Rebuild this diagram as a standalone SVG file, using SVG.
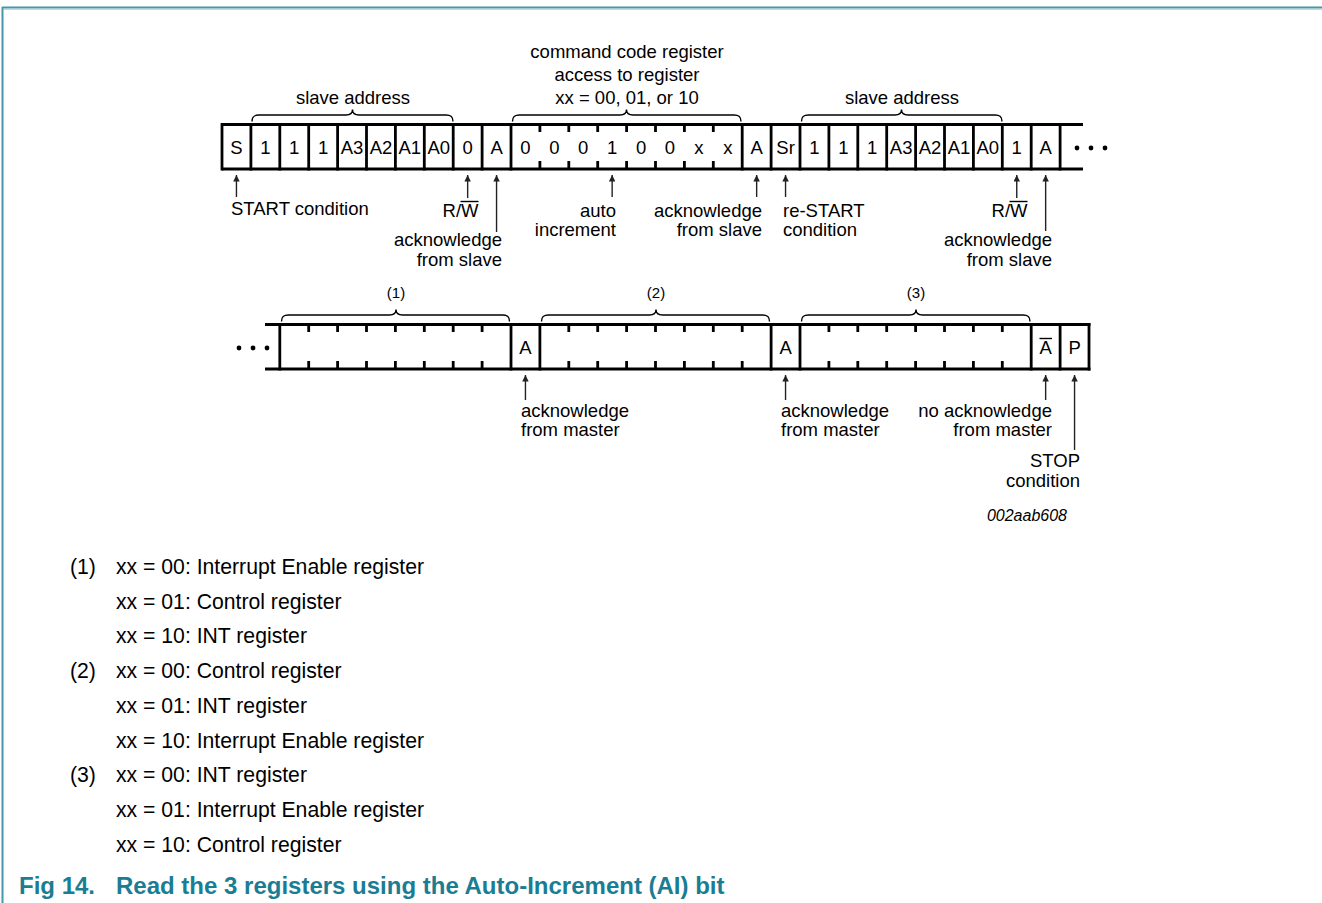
<svg xmlns="http://www.w3.org/2000/svg" width="1322" height="903" viewBox="0 0 1322 903">
<style>
text{font-family:"Liberation Sans",Arial,sans-serif;fill:#000}
.t{font-size:18.5px}
.c{font-size:18.5px;text-anchor:middle}
.e{text-anchor:end}
.m{text-anchor:middle}
.s{font-size:15px;text-anchor:middle}
.n{font-size:21.2px}
.cap{font-size:24px;font-weight:bold;fill:#1b7d94}
.id{font-size:16px;font-style:italic;text-anchor:end}
.box{stroke:#000;stroke-width:3;fill:none}
.tick{stroke:#000;stroke-width:2.8}
.br{stroke:#000;stroke-width:1.4;fill:none}
.ar{stroke:#222;stroke-width:1.4;fill:none;marker-end:url(#ah)}
.ov{stroke:#000;stroke-width:1.4}
</style>
<defs>
<marker id="ah" markerUnits="userSpaceOnUse" viewBox="0 0 10 10" refX="10" refY="5" markerWidth="8.5" markerHeight="6.5" orient="auto">
<path d="M0,0 L10,5 L0,10 z" fill="#222"/>
</marker>
</defs>

<g id="frame">
<line x1="2" y1="7.5" x2="1322" y2="7.5" stroke="#4796ab" stroke-width="2"/>
<line x1="4" y1="9.5" x2="1322" y2="9.5" stroke="#b8dbe4" stroke-width="1"/>
<line x1="2.5" y1="7" x2="2.5" y2="903" stroke="#4796ab" stroke-width="2"/>
</g>

<g id="row1">
<line class="box" x1="222" y1="124.5" x2="1083" y2="124.5"/>
<line class="box" x1="222" y1="169" x2="1083" y2="169"/>
<g class="tick">
<line x1="222" y1="123" x2="222" y2="170.5"/>
<line x1="250.9" y1="123" x2="250.9" y2="170.5"/>
<line x1="279.8" y1="123" x2="279.8" y2="170.5"/>
<line x1="308.7" y1="123" x2="308.7" y2="170.5"/>
<line x1="337.6" y1="123" x2="337.6" y2="170.5"/>
<line x1="366.5" y1="123" x2="366.5" y2="170.5"/>
<line x1="395.4" y1="123" x2="395.4" y2="170.5"/>
<line x1="424.3" y1="123" x2="424.3" y2="170.5"/>
<line x1="453.2" y1="123" x2="453.2" y2="170.5"/>
<line x1="482.1" y1="123" x2="482.1" y2="170.5"/>
<line x1="511" y1="123" x2="511" y2="170.5"/>
<line x1="742.2" y1="123" x2="742.2" y2="170.5"/>
<line x1="771.1" y1="123" x2="771.1" y2="170.5"/>
<line x1="800" y1="123" x2="800" y2="170.5"/>
<line x1="828.9" y1="123" x2="828.9" y2="170.5"/>
<line x1="857.8" y1="123" x2="857.8" y2="170.5"/>
<line x1="886.7" y1="123" x2="886.7" y2="170.5"/>
<line x1="915.6" y1="123" x2="915.6" y2="170.5"/>
<line x1="944.5" y1="123" x2="944.5" y2="170.5"/>
<line x1="973.4" y1="123" x2="973.4" y2="170.5"/>
<line x1="1002.3" y1="123" x2="1002.3" y2="170.5"/>
<line x1="1031.2" y1="123" x2="1031.2" y2="170.5"/>
<line x1="1060.1" y1="123" x2="1060.1" y2="170.5"/>
<path d="M539.9,124 v8 M539.9,161 v8 M568.8,124 v8 M568.8,161 v8 M597.7,124 v8 M597.7,161 v8 M626.6,124 v8 M626.6,161 v8 M655.5,124 v8 M655.5,161 v8 M684.4,124 v8 M684.4,161 v8 M713.3,124 v8 M713.3,161 v8"/>
</g>
<g class="c">
<text x="236.45" y="154">S</text>
<text x="265.35" y="154">1</text>
<text x="294.25" y="154">1</text>
<text x="323.15" y="154">1</text>
<text x="352.05" y="154">A3</text>
<text x="380.95" y="154">A2</text>
<text x="409.85" y="154">A1</text>
<text x="438.75" y="154">A0</text>
<text x="467.65" y="154">0</text>
<text x="496.55" y="154">A</text>
<text x="525.45" y="154">0</text>
<text x="554.35" y="154">0</text>
<text x="583.25" y="154">0</text>
<text x="612.15" y="154">1</text>
<text x="641.05" y="154">0</text>
<text x="669.95" y="154">0</text>
<text x="698.85" y="154">x</text>
<text x="727.75" y="154">x</text>
<text x="756.65" y="154">A</text>
<text x="785.55" y="154">Sr</text>
<text x="814.45" y="154">1</text>
<text x="843.35" y="154">1</text>
<text x="872.25" y="154">1</text>
<text x="901.15" y="154">A3</text>
<text x="930.05" y="154">A2</text>
<text x="958.95" y="154">A1</text>
<text x="987.85" y="154">A0</text>
<text x="1016.75" y="154">1</text>
<text x="1045.65" y="154">A</text>
</g>
<g fill="#000">
<circle cx="1077" cy="148" r="2.4"/>
<circle cx="1091" cy="148" r="2.4"/>
<circle cx="1105" cy="148" r="2.4"/>
</g>
</g>

<g id="row2">
<line class="box" x1="265" y1="324.5" x2="1090.5" y2="324.5"/>
<line class="box" x1="265" y1="369" x2="1090.5" y2="369"/>
<g class="tick">
<line x1="279.8" y1="323" x2="279.8" y2="370.5"/>
<line x1="511" y1="323" x2="511" y2="370.5"/>
<line x1="539.9" y1="323" x2="539.9" y2="370.5"/>
<line x1="771.1" y1="323" x2="771.1" y2="370.5"/>
<line x1="800" y1="323" x2="800" y2="370.5"/>
<line x1="1031.2" y1="323" x2="1031.2" y2="370.5"/>
<line x1="1060.1" y1="323" x2="1060.1" y2="370.5"/>
<line x1="1089" y1="323" x2="1089" y2="370.5"/>
<path d="M308.7,324 v8 M308.7,361 v8 M337.6,324 v8 M337.6,361 v8 M366.5,324 v8 M366.5,361 v8 M395.4,324 v8 M395.4,361 v8 M424.3,324 v8 M424.3,361 v8 M453.2,324 v8 M453.2,361 v8 M482.1,324 v8 M482.1,361 v8"/>
<path d="M568.8,324 v8 M568.8,361 v8 M597.7,324 v8 M597.7,361 v8 M626.6,324 v8 M626.6,361 v8 M655.5,324 v8 M655.5,361 v8 M684.4,324 v8 M684.4,361 v8 M713.3,324 v8 M713.3,361 v8 M742.2,324 v8 M742.2,361 v8"/>
<path d="M828.9,324 v8 M828.9,361 v8 M857.8,324 v8 M857.8,361 v8 M886.7,324 v8 M886.7,361 v8 M915.6,324 v8 M915.6,361 v8 M944.5,324 v8 M944.5,361 v8 M973.4,324 v8 M973.4,361 v8 M1002.3,324 v8 M1002.3,361 v8"/>
</g>
<g class="c">
<text x="525.45" y="354">A</text>
<text x="785.55" y="354">A</text>
<text x="1045.65" y="354">A</text>
<text x="1074.55" y="354">P</text>
</g>
<line class="ov" x1="1039.5" y1="338.5" x2="1052" y2="338.5"/>
<g fill="#000">
<circle cx="239" cy="348" r="2.4"/>
<circle cx="253" cy="348" r="2.4"/>
<circle cx="267" cy="348" r="2.4"/>
</g>
</g>

<g id="braces">
<path class="br" d="M252,121.5 C252,116.5 254,115 259,115 L346,115 C351,115 352.5,113 352.5,109.5 C352.5,113 354,115 359,115 L446,115 C451,115 453,116.5 453,121.5"/>
<path class="br" d="M512.5,121.5 C512.5,116.5 514.5,115 519.5,115 L620,115 C625,115 626.5,113 626.5,109.5 C626.5,113 628,115 633,115 L734,115 C739,115 741,116.5 741,121.5"/>
<path class="br" d="M801.5,121.5 C801.5,116.5 803.5,115 808.5,115 L895,115 C900,115 901.5,113 901.5,109.5 C901.5,113 903,115 908,115 L995,115 C1000,115 1002,116.5 1002,121.5"/>
<path class="br" d="M281.5,321.5 C281.5,316.5 283.5,315 288.5,315 L389.5,315 C394.5,315 396,313 396,309.5 C396,313 397.5,315 402.5,315 L502.5,315 C507.5,315 509.5,316.5 509.5,321.5"/>
<path class="br" d="M541.5,321.5 C541.5,316.5 543.5,315 548.5,315 L649.5,315 C654.5,315 656,313 656,309.5 C656,313 657.5,315 662.5,315 L762.5,315 C767.5,315 769.5,316.5 769.5,321.5"/>
<path class="br" d="M801.5,321.5 C801.5,316.5 803.5,315 808.5,315 L909.5,315 C914.5,315 916,313 916,309.5 C916,313 917.5,315 922.5,315 L1023,315 C1028,315 1030,316.5 1030,321.5"/>
</g>

<g id="connectors">
<line class="ar" x1="236.45" y1="197" x2="236.45" y2="175"/>
<line class="ar" x1="467.65" y1="198" x2="467.65" y2="175"/>
<line class="ar" x1="496.55" y1="232" x2="496.55" y2="175"/>
<line class="ar" x1="612.15" y1="197" x2="612.15" y2="175"/>
<line class="ar" x1="756.65" y1="197" x2="756.65" y2="175"/>
<line class="ar" x1="785.55" y1="197" x2="785.55" y2="175"/>
<line class="ar" x1="1016.75" y1="198" x2="1016.75" y2="175"/>
<line class="ar" x1="1045.65" y1="231" x2="1045.65" y2="175"/>
<line class="ar" x1="525.45" y1="400" x2="525.45" y2="375"/>
<line class="ar" x1="785.55" y1="400" x2="785.55" y2="375"/>
<line class="ar" x1="1045.65" y1="400" x2="1045.65" y2="375"/>
<line class="ar" x1="1074.55" y1="450" x2="1074.55" y2="375"/>
</g>

<g id="labels-top" class="t">
<text class="m" x="353" y="104">slave address</text>
<text class="m" x="627" y="58">command code register</text>
<text class="m" x="627" y="81">access to register</text>
<text class="m" x="627" y="104">xx = 00, 01, or 10</text>
<text class="m" x="902" y="104">slave address</text>
<text x="231" y="215">START condition</text>
<text class="e" x="478.5" y="217">R/W</text>
<line class="ov" x1="460.5" y1="201.5" x2="478.5" y2="201.5"/>
<text class="e" x="502" y="246">acknowledge</text>
<text class="e" x="502" y="266">from slave</text>
<text class="e" x="616" y="217">auto</text>
<text class="e" x="616" y="236">increment</text>
<text class="e" x="762" y="217">acknowledge</text>
<text class="e" x="762" y="236">from slave</text>
<text x="783" y="217">re-START</text>
<text x="783" y="236">condition</text>
<text class="e" x="1027.5" y="217">R/W</text>
<line class="ov" x1="1009.5" y1="201.5" x2="1027.5" y2="201.5"/>
<text class="e" x="1052" y="246">acknowledge</text>
<text class="e" x="1052" y="266">from slave</text>
</g>

<g id="labels-bottom" class="t">
<text class="s" x="396" y="298">(1)</text>
<text class="s" x="656" y="298">(2)</text>
<text class="s" x="916" y="298">(3)</text>
<text x="521" y="417">acknowledge</text>
<text x="521" y="436">from master</text>
<text x="781" y="417">acknowledge</text>
<text x="781" y="436">from master</text>
<text class="e" x="1052" y="417">no acknowledge</text>
<text class="e" x="1052" y="436">from master</text>
<text class="e" x="1080" y="467">STOP</text>
<text class="e" x="1080" y="487">condition</text>
<text class="id" x="1067" y="521">002aab608</text>
</g>

<g id="notes" class="n">
<text x="70" y="574">(1)</text>
<text x="116" y="574">xx = 00: Interrupt Enable register</text>
<text x="116" y="609">xx = 01: Control register</text>
<text x="116" y="643">xx = 10: INT register</text>
<text x="70" y="678">(2)</text>
<text x="116" y="678">xx = 00: Control register</text>
<text x="116" y="713">xx = 01: INT register</text>
<text x="116" y="748">xx = 10: Interrupt Enable register</text>
<text x="70" y="782">(3)</text>
<text x="116" y="782">xx = 00: INT register</text>
<text x="116" y="817">xx = 01: Interrupt Enable register</text>
<text x="116" y="852">xx = 10: Control register</text>
</g>

<g id="caption">
<text class="cap" x="19" y="894">Fig 14.</text>
<text class="cap" x="116" y="894">Read the 3 registers using the Auto-Increment (AI) bit</text>
</g>
</svg>
